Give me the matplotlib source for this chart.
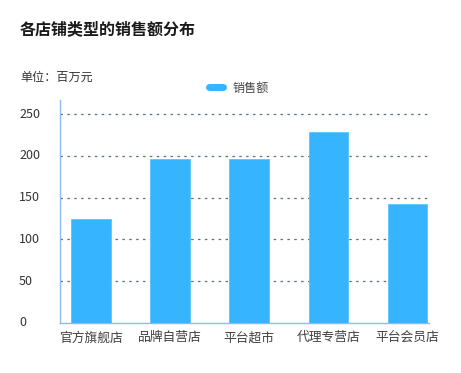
import numpy as np
import matplotlib
matplotlib.use('Agg')
import matplotlib.pyplot as plt
from matplotlib.patches import FancyBboxPatch

plt.rcParams['font.family'] = ['Noto Sans CJK SC', 'DejaVu Sans']

# data
categories = ['官方旗舰店', '品牌自营店', '平台超市', '代理专营店', '平台会员店']
sales = [125, 196, 196, 229, 143]
yticks = [0, 50, 100, 150, 200, 250]

W, H = 461, 373
fig = plt.figure(figsize=(W / 100, H / 100), dpi=100)

# axes box in pixels: left 60, right 429, top 100, bottom 323
ax = fig.add_axes([60 / W, (H - 323) / H, (429 - 60) / W, (323 - 100) / H])

x = np.arange(len(categories))
ax.bar(x, sales, width=0.5, color='#36b5fe', edgecolor='#5cc4ff', linewidth=0.6, zorder=3)

ax.set_xlim(-0.39, 4.27)
ax.set_ylim(0, 267)

# grid lines
for v in yticks[1:]:
    ax.axhline(v, color='#5a6f82', linestyle=(0, (2, 3.5)), linewidth=0.9, zorder=1)

for s in ['top', 'right']:
    ax.spines[s].set_visible(False)
for s in ['left', 'bottom']:
    ax.spines[s].set_color('#8fb8f7')
    ax.spines[s].set_linewidth(1.0)

ax.set_yticks([])
ax.set_xticks(x)
ax.set_xticklabels(categories, fontsize=9.2, color='#404040')
ax.tick_params(axis='x', length=0, pad=6)

# y labels, left aligned near figure edge
trans = matplotlib.transforms.blended_transform_factory(fig.transFigure, ax.transData)
for v in yticks:
    ax.text(19 / W, v, str(v), transform=trans, ha='left', va='center',
            fontsize=9, color='#333333')

fig.text(20 / W, 1 - 29 / H, '各店铺类型的销售额分布', fontsize=11.5,
         fontweight='bold', color='#1a1a1a', ha='left', va='center')
fig.text(20 / W, 1 - 77 / H, '单位：百万元', fontsize=8.7, color='#333333',
         ha='left', va='center')

# legend
pill = FancyBboxPatch((206 / W, 1 - 91 / H), 21 / W, 7 / H,
                      boxstyle='round,pad=0,rounding_size=0.009',
                      transform=fig.transFigure, facecolor='#36b5fe',
                      edgecolor='none', mutation_aspect=W / H)
fig.patches.append(pill)
fig.text(233 / W, 1 - 88 / H, '销售额', fontsize=8.7, color='#444444',
         ha='left', va='center')

fig.savefig('out.png', dpi=100)
